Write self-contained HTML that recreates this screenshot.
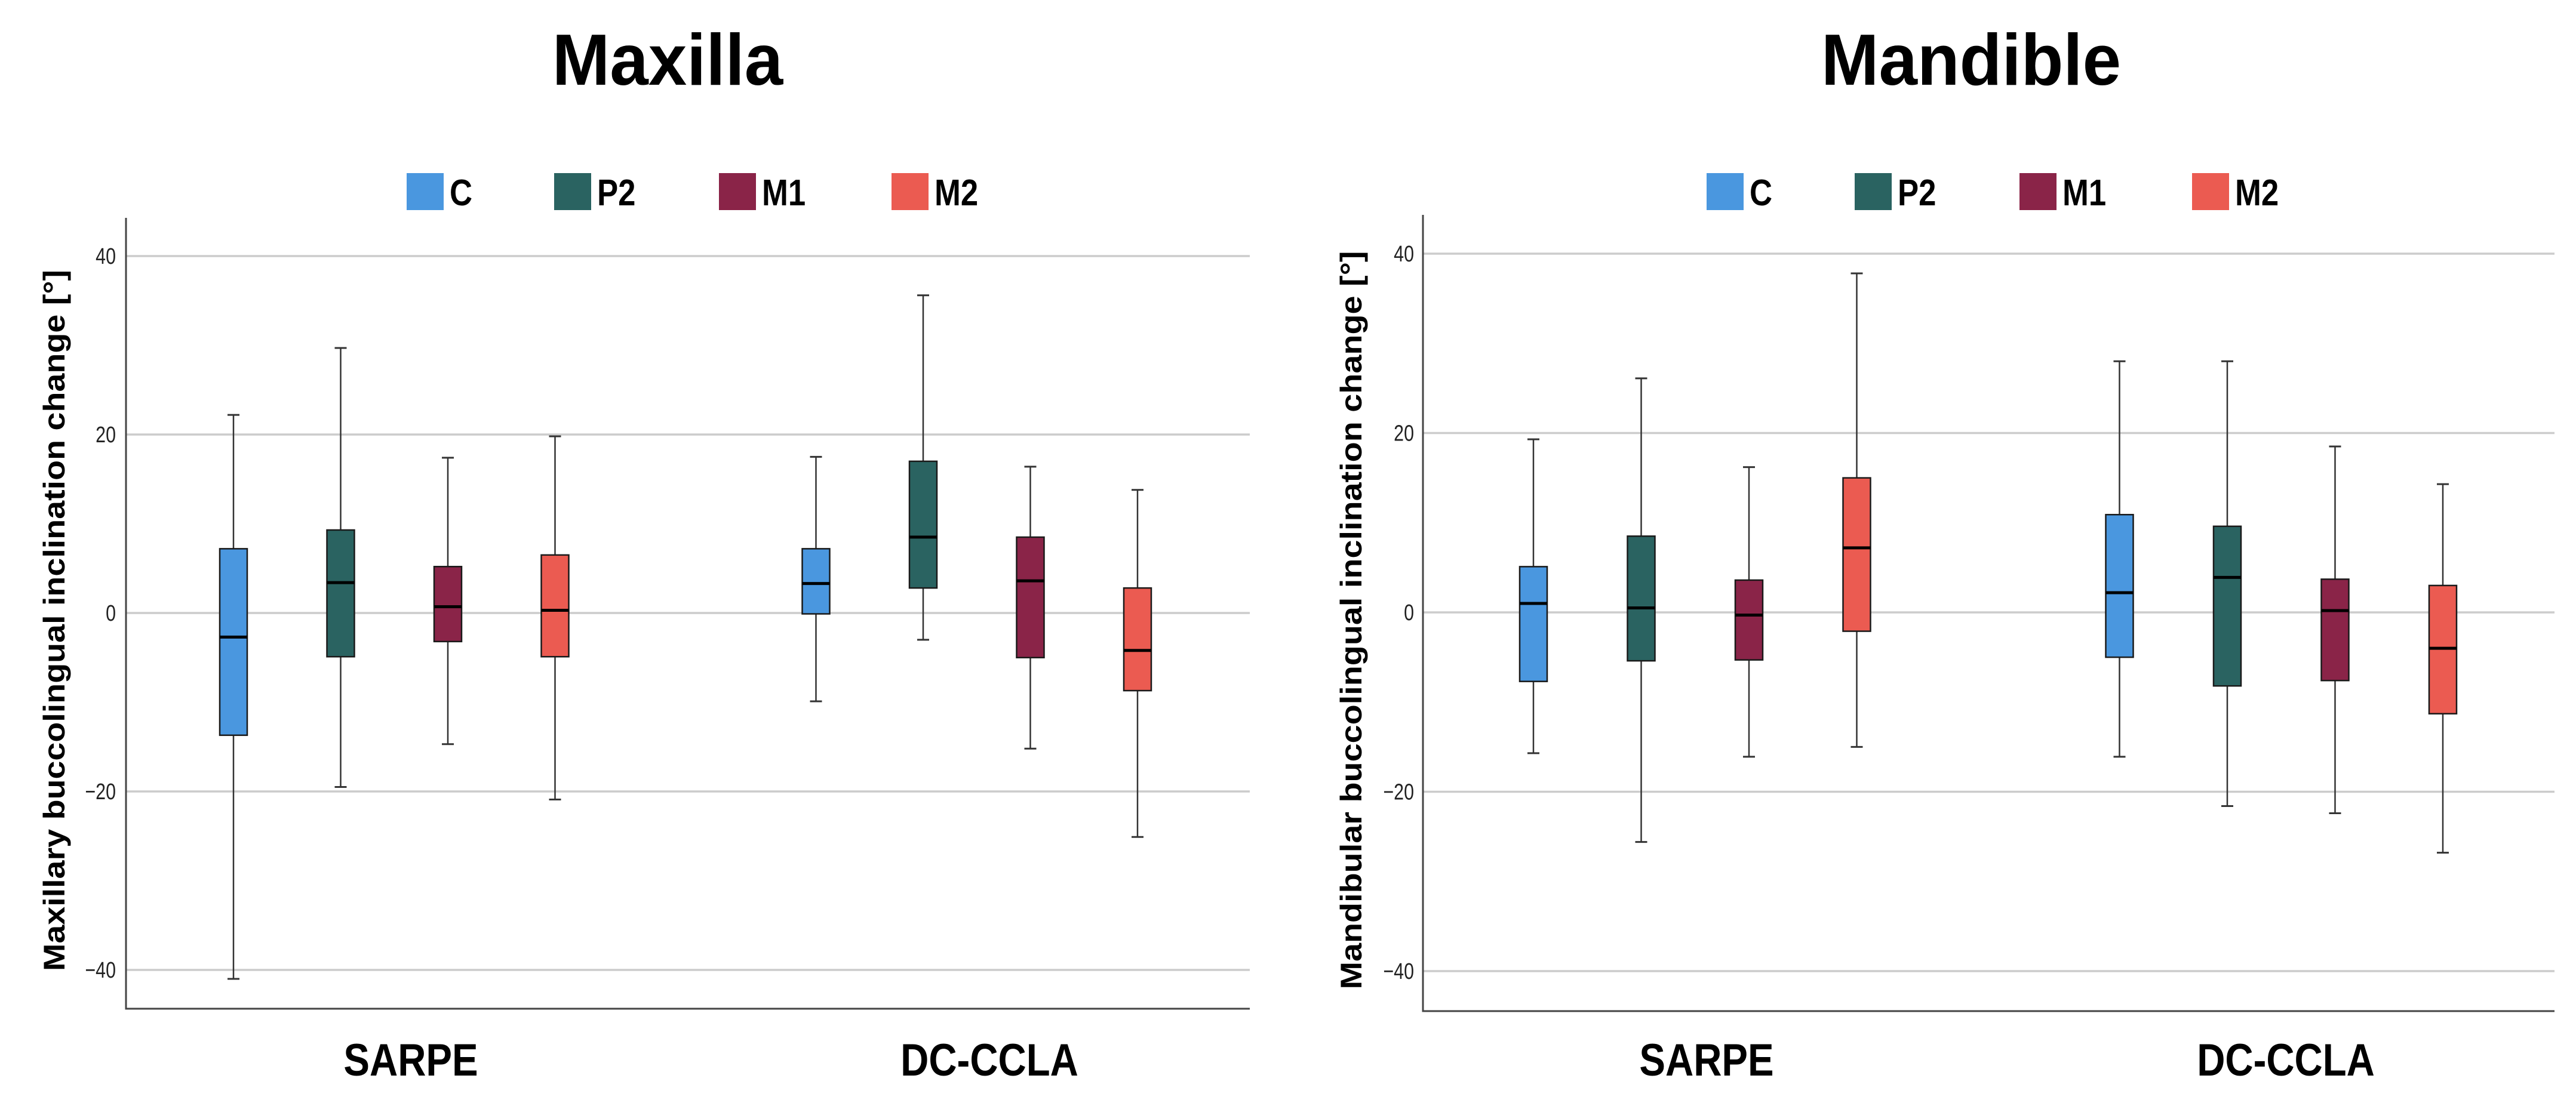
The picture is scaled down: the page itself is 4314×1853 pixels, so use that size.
<!DOCTYPE html>
<html><head><meta charset="utf-8">
<style>
html,body{margin:0;padding:0;background:#fff;}
svg{display:block;}
text{font-family:"Liberation Sans",Arial,sans-serif;}
</style></head>
<body>
<svg id="chart" width="4314" height="1853" viewBox="0 0 4314 1853" xmlns="http://www.w3.org/2000/svg"></svg>
<script>
const categories = ["C","P2","M1","M2"];
const groups = ["SARPE","DC-CCLA"];
const colors = ["#4a97df","#2a6361","#8a2448","#eb5b51"];
const yTicks = [-40,-20,0,20,40];
// [whiskerHigh, q3, median, q1, whiskerLow], ordered SARPE C,P2,M1,M2 then DC-CCLA C,P2,M1,M2
const maxillaValues = [
  [22.2,7.2,-2.7,-13.7,-41.0],
  [29.7,9.3,3.4,-4.9,-19.5],
  [17.4,5.2,0.7,-3.2,-14.7],
  [19.8,6.5,0.3,-4.9,-20.9],
  [17.5,7.2,3.3,-0.1,-9.9],
  [35.6,17.0,8.5,2.8,-3.0],
  [16.4,8.5,3.6,-5.0,-15.2],
  [13.8,2.8,-4.2,-8.7,-25.1]
];
const mandibleValues = [
  [19.3,5.1,1.0,-7.7,-15.7],
  [26.1,8.5,0.5,-5.4,-25.6],
  [16.2,3.6,-0.3,-5.3,-16.1],
  [37.8,15.0,7.2,-2.1,-15.0],
  [28.0,10.9,2.2,-5.0,-16.1],
  [28.0,9.6,3.9,-8.2,-21.6],
  [18.5,3.7,0.2,-7.6,-22.4],
  [14.3,3.0,-4.0,-11.3,-26.8]
];

const NS="http://www.w3.org/2000/svg";
const svg=document.getElementById('chart');
function mk(tag,attrs,parent,txt){const e=document.createElementNS(NS,tag);for(const k in attrs)e.setAttribute(k,attrs[k]);if(txt!==undefined)e.textContent=txt;(parent||svg).appendChild(e);return e;}
function sx(x,f){return `translate(${x},0) scale(${f},1) translate(${-x},0)`;}

const panels=[
 {title:"Maxilla",titleX:1118,ytitle:"Maxillary buccolingual inclination change [°]",ytX:108,ytLen:1175,
  axL:211,axR:2093,axT:365,axB:1690,y40:429,y0:1027,tickX:194,
  first:391,step:179.5,gap:437,legendX:[681,928,1204,1493],groupLabelX:[688,1657],values:maxillaValues,key:"maxilla"},
 {title:"Mandible",titleX:3301,ytitle:"Mandibular buccolingual inclination change [°]",ytX:2280,ytLen:1237,
  axL:2383,axR:4278,axT:360,axB:1694,y40:425,y0:1026,tickX:2368,
  first:2568,step:180.5,gap:440,legendX:[2858,3106,3382,3671],groupLabelX:[2858,3828],values:mandibleValues,key:"mandible"}
];

panels.forEach(p=>{
  const g=mk('g',{},svg);
  
  
  const yScale=v=>p.y0-(v/40)*(p.y0-p.y40);
  const t=mk('text',{x:p.titleX,y:142,'text-anchor':'middle','font-size':122,'font-weight':'bold',fill:'#000',transform:sx(p.titleX,0.95)},g,p.title);
  
  
  categories.forEach((c,i)=>{
    const r=mk('rect',{x:p.legendX[i],y:290,width:62,height:62,fill:colors[i]},g);
    
    
    const lx=p.legendX[i]+72;
    const lt=mk('text',{x:lx,y:344,'font-size':62,'font-weight':'bold',fill:'#000',transform:sx(lx,0.85)},g,c);
    
    
  });
  yTicks.forEach(v=>{
    const y=yScale(v);
    const gl=mk('line',{x1:p.axL,x2:p.axR,y1:y,y2:y,stroke:'#cccccc','stroke-width':3.5},g);
    
    
    const tl=mk('text',{x:p.tickX,y:y+13,'text-anchor':'end','font-size':38,fill:'#222',transform:sx(p.tickX,0.8)},g,v<0?'\u2212'+Math.abs(v):String(v));
    
    
  });
  const ax=mk('path',{d:`M${p.axL},${p.axT}V${p.axB}H${p.axR}`,fill:'none',stroke:'#444','stroke-width':3},g);
  
  
  const cy=(p.axT+p.axB)/2+12;
  const yt=mk('text',{x:p.ytX,y:cy,'text-anchor':'middle','font-size':50,'font-weight':'bold',fill:'#000',transform:`rotate(-90 ${p.ytX} ${cy})`,textLength:p.ytLen,lengthAdjust:'spacingAndGlyphs'},g,p.ytitle);
  
  
  groups.forEach((gn,gi)=>{
    const gx=p.groupLabelX[gi];
    const gl=mk('text',{x:gx,y:1802,'text-anchor':'middle','font-size':76,'font-weight':'bold',fill:'#000',transform:sx(gx,0.86)},g,gn);
    
    
  });
  p.values.forEach((v,idx)=>{
    const gi=Math.floor(idx/4), ci=idx%4;
    const cx=p.first+gi*(3*p.step+p.gap)+ci*p.step;
    const bw=46;
    const bg=mk('g',{},g);
    
    
    const [hi,q3,med,q1,lo]=v.map(yScale);
    mk('line',{x1:cx,x2:cx,y1:hi,y2:q3,stroke:'#333','stroke-width':2.5},bg);
    mk('line',{x1:cx,x2:cx,y1:q1,y2:lo,stroke:'#333','stroke-width':2.5},bg);
    mk('line',{x1:cx-10,x2:cx+10,y1:hi,y2:hi,stroke:'#333','stroke-width':3},bg);
    mk('line',{x1:cx-10,x2:cx+10,y1:lo,y2:lo,stroke:'#333','stroke-width':3},bg);
    mk('rect',{x:cx-bw/2,y:q3,width:bw,height:q1-q3,fill:colors[ci],stroke:'#1a1a1a','stroke-width':2.5},bg);
    mk('line',{x1:cx-bw/2,x2:cx+bw/2,y1:med,y2:med,stroke:'#000','stroke-width':5},bg);
  });
});
</script>
</body></html>
